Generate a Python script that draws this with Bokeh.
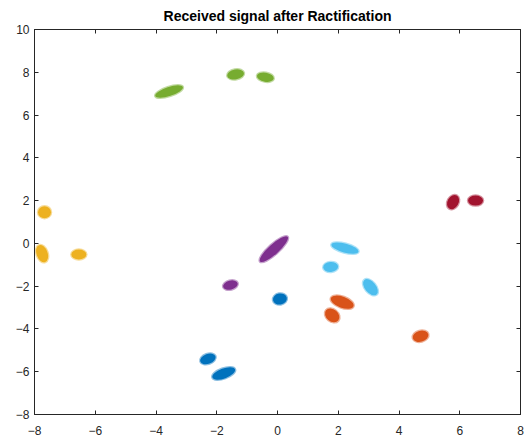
from bokeh.plotting import figure
from bokeh.models import LinearAxis, FixedTicker, ColumnDataSource, Range1d, CustomJSTickFormatter
from bokeh.embed import file_html
from bokeh.resources import INLINE

# ---- data (cluster centres) ----
blue_x = [0.08, -2.29, -1.77]
blue_y = [-2.60, -5.40, -6.08]
orange_x = [2.13, 1.80, 4.71]
orange_y = [-2.75, -3.37, -4.34]
yellow_x = [-7.67, -7.75, -6.54]
yellow_y = [1.46, -0.48, -0.52]
purple_x = [-0.12, -1.55]
purple_y = [-0.27, -1.95]
green_x = [-3.57, -1.38, -0.40]
green_y = [7.10, 7.90, 7.77]
cyan_x = [2.22, 1.75, 3.06]
cyan_y = [-0.22, -1.10, -2.05]
red_x = [5.78, 6.52]
red_y = [1.93, 2.00]

x_ticks = [-8, -6, -4, -2, 0, 2, 4, 6, 8]
y_ticks = [-8, -6, -4, -2, 0, 2, 4, 6, 8, 10]

# ---- blob shapes (style: screen px length, thickness, angle deg) ----
shapes = {
    "blue":   ([14, 16, 24], [11, 10, 10], [10, 20, 20]),
    "orange": ([24, 16, 16], [11, 12, 11], [-20, -40, 15]),
    "yellow": ([13, 18, 15], [12, 11, 10], [0, -70, 0]),
    "purple": ([37, 15], [10, 9], [42, 15]),
    "green":  ([29, 17, 17], [9, 10, 9], [18, 10, -10]),
    "cyan":   ([28, 15, 19], [9, 10, 11], [-15, 5, -50]),
    "red":    ([15, 15], [11, 10], [60, 0]),
}
colors = {
    "blue": "#0072BD", "orange": "#D95319", "yellow": "#EDB120",
    "purple": "#7E2F8E", "green": "#77AC30", "cyan": "#4DBEEE", "red": "#A2142F",
}
series = {
    "blue": (blue_x, blue_y), "orange": (orange_x, orange_y),
    "yellow": (yellow_x, yellow_y), "purple": (purple_x, purple_y),
    "green": (green_x, green_y), "cyan": (cyan_x, cyan_y), "red": (red_x, red_y),
}

p = figure(width=524, height=442, output_backend="svg", toolbar_location=None,
           x_range=Range1d(-8, 8), y_range=Range1d(-8, 10),
           min_border_left=34, min_border_right=4, min_border_top=29, min_border_bottom=28,
           title="Received signal after Ractification")
p.title.align = "center"
p.title.text_font = "Liberation Sans"
p.title.text_font_size = "14px"
p.title.text_font_style = "bold"
p.title.text_color = "#000000"
p.title.standoff = 11
p.title.offset = 0

p.xgrid.visible = False
p.ygrid.visible = False
p.outline_line_color = "#262626"
p.background_fill_color = "white"
p.border_fill_color = "white"

for name in ["blue", "orange", "yellow", "purple", "green", "cyan", "red"]:
    xs, ys = series[name]
    ln, th, an = shapes[name]
    src = ColumnDataSource(dict(x=xs, y=ys, w=ln, h=th, a=an))
    p.ellipse(x="x", y="y", width="w", height="h", angle="a", angle_units="deg",
              width_units="screen", height_units="screen", source=src,
              fill_color=colors[name], line_color=colors[name],
              line_alpha=0.45, line_width=2.5)

def style_axis(ax, show_labels, standoff):
    ax.axis_line_color = "#262626"
    ax.major_tick_line_color = "#262626"
    ax.major_tick_in = 4
    ax.major_tick_out = 0
    ax.minor_tick_line_color = None
    ax.major_label_text_font = "Liberation Sans"
    ax.major_label_text_color = "#262626"
    ax.major_label_text_font_size = "12px"
    ax.major_label_standoff = standoff
    if not show_labels:
        ax.formatter = CustomJSTickFormatter(code="return ''")
        ax.major_label_standoff = 0

p.xaxis.ticker = FixedTicker(ticks=x_ticks)
p.yaxis.ticker = FixedTicker(ticks=y_ticks)
style_axis(p.xaxis[0], True, 11)
style_axis(p.yaxis[0], True, 5)

top = LinearAxis(ticker=FixedTicker(ticks=x_ticks))
right = LinearAxis(ticker=FixedTicker(ticks=y_ticks))
style_axis(top, False, 0)
style_axis(right, False, 0)
p.add_layout(top, "above")
p.add_layout(right, "right")

open("out.html", "w").write(file_html(p, INLINE))
